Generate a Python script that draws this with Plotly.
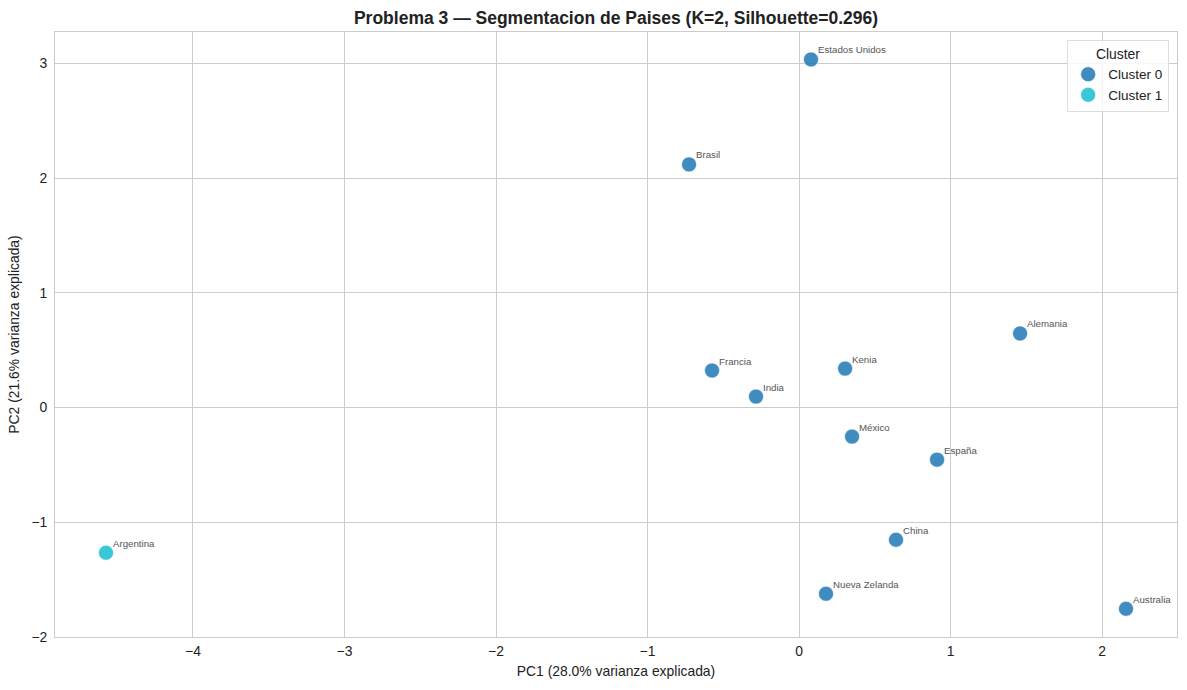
import plotly.graph_objects as go

countries = ["Estados Unidos", "Brasil", "Alemania", "Francia", "Kenia", "India",
             "México", "España", "China", "Argentina", "Nueva Zelanda", "Australia"]
pc1 = [0.079, -0.726, 1.459, -0.574, 0.304, -0.284, 0.350, 0.911, 0.640, -4.574, 0.178, 2.158]
pc2 = [3.035, 2.120, 0.646, 0.323, 0.340, 0.096, -0.253, -0.454, -1.152, -1.265, -1.623, -1.754]
cluster = [0, 0, 0, 0, 0, 0, 0, 0, 0, 1, 0, 0]

cluster_names = ["Cluster 0", "Cluster 1"]
cluster_colors = ["rgba(31,119,180,0.85)", "rgba(23,190,207,0.85)"]

FONT = "Liberation Sans, Arial, sans-serif"

fig = go.Figure()
for k, name in enumerate(cluster_names):
    xs = [x for x, c in zip(pc1, cluster) if c == k]
    ys = [y for y, c in zip(pc2, cluster) if c == k]
    fig.add_trace(go.Scatter(
        x=xs, y=ys, mode="markers", name=name,
        marker=dict(size=15, color=cluster_colors[k], line=dict(width=0.6, color="white")),
    ))

for name, x, y in zip(countries, pc1, pc2):
    fig.add_annotation(x=x, y=y, text=name, showarrow=False,
                       xanchor="left", yanchor="bottom", xshift=5, yshift=2,
                       font=dict(size=9.7, color="#555555", family=FONT))

xmin, xmax = min(pc1), max(pc1)
ymin, ymax = min(pc2), max(pc2)
mx = 0.05 * (xmax - xmin)
my = 0.05 * (ymax - ymin)

fig.update_layout(
    width=1187, height=690,
    margin=dict(l=55, r=10, t=32, b=53),
    paper_bgcolor="white", plot_bgcolor="white",
    font=dict(family=FONT, size=13.9, color="#222222"),
    title=dict(text="<b>Problema 3 — Segmentacion de Paises (K=2, Silhouette=0.296)</b>",
               x=0.519, xanchor="center", y=0.974, yanchor="middle",
               font=dict(size=17.5, color="#222222", family=FONT)),
    xaxis=dict(range=[xmin - mx, xmax + mx], dtick=1, showgrid=True, gridcolor="#cccccc",
               gridwidth=1, zeroline=False, showline=True, linecolor="#cccccc", mirror=True,
               ticks="", ticklabelstandoff=1,
               title=dict(text="PC1 (28.0% varianza explicada)", standoff=8,
                          font=dict(size=13.9)),
               tickfont=dict(size=13.9)),
    yaxis=dict(range=[-2.0, ymax + my], dtick=1, showgrid=True, gridcolor="#cccccc",
               gridwidth=1, zeroline=False, showline=True, linecolor="#cccccc", mirror=True,
               ticks="", ticklabelstandoff=4,
               title=dict(text="PC2 (21.6% varianza explicada)", standoff=8,
                          font=dict(size=13.9)),
               tickfont=dict(size=13.9)),
    legend=dict(title=dict(text="Cluster", side="top center", font=dict(size=13.9)),
                x=0.993, xanchor="right", y=0.987, yanchor="top",
                bordercolor="#dddddd", borderwidth=1, bgcolor="rgba(255,255,255,0.8)",
                font=dict(size=13.5)),
)

fig.write_html("out.html")
